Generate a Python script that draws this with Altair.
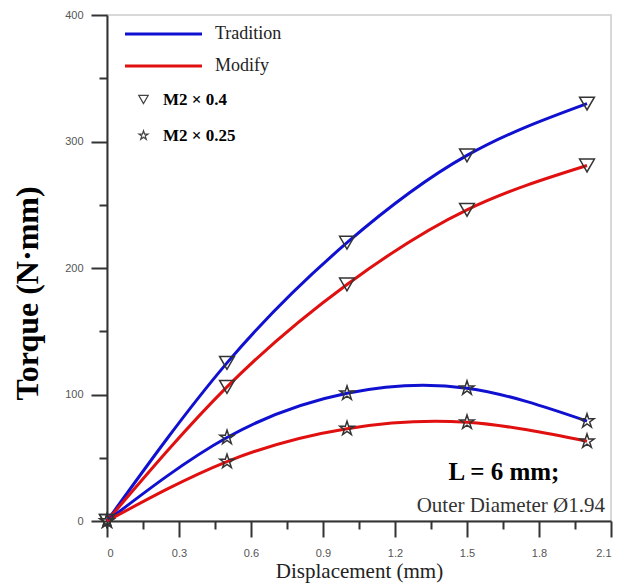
import altair as alt
import pandas as pd

# Displacement (mm) sampled for every curve
displacement = [0.0, 0.5, 1.0, 1.5, 2.0]

# Torque (N·mm) for each design / module combination
tradition_04 = [0, 125, 220, 289, 330]
modify_04 = [0, 106, 187, 246, 281]
tradition_025 = [0, 66, 101, 105, 79]
modify_025 = [0, 47, 73, 78, 63]

designs = ["Tradition", "Modify"]
modules = ["M2 \u00d7 0.4", "M2 \u00d7 0.25"]
design_colors = ["#1010d0", "#e01010"]

series = [
    ("Tradition", modules[0], tradition_04),
    ("Modify", modules[0], modify_04),
    ("Tradition", modules[1], tradition_025),
    ("Modify", modules[1], modify_025),
]
rows = []
for design, module, values in series:
    for x, y in zip(displacement, values):
        rows.append({"disp": x, "torque": y, "design": design, "module": module})
df = pd.DataFrame(rows)

x_major = [0, 0.3, 0.6, 0.9, 1.2, 1.5, 1.8, 2.1]
x_minor = [0.15, 0.45, 0.75, 1.05, 1.35, 1.65, 1.95]
y_major = [0, 100, 200, 300, 400]
y_minor = [50, 150, 250, 350]

STAR = ("M0,-1L0.2245,-0.309L0.951,-0.309L0.363,0.118L0.588,0.809L0,0.382"
        "L-0.588,0.809L-0.363,0.118L-0.951,-0.309L-0.2245,-0.309Z")

SERIF = "Liberation Serif"
SANS = "Liberation Sans"

xscale = alt.Scale(domain=[0, 2.1], nice=False, zero=False)
yscale = alt.Scale(domain=[0, 400], nice=False)

x_axis = alt.Axis(
    values=x_major, title="Displacement (mm)", orient="bottom",
    titleFont=SERIF, titleFontSize=21, titleFontWeight="normal", titleColor="#222",
    titleY=56, titleBaseline="alphabetic",
    labelFont=SANS, labelFontSize=11, labelColor="#555", labelPadding=10,
    tickSize=16, tickWidth=2, tickColor="#333", domainColor="#333", domainWidth=2,
    grid=False, labelExpr="datum.value == 0 ? '0' : format(datum.value, '.1f')",
)
y_axis = alt.Axis(
    values=y_major, title="Torque (N\u00b7mm)", orient="left",
    titleFont=SERIF, titleFontSize=32, titleFontWeight="bold", titleColor="#000",
    titleX=-80, titleY=278, titleAngle=-90, titleAlign="center", titleBaseline="middle",
    labelFont=SANS, labelFontSize=11, labelColor="#555", labelPadding=8,
    tickSize=16, tickWidth=2, tickColor="#333", domainColor="#333", domainWidth=2,
    grid=False,
)
x_minor_axis = alt.Axis(
    values=x_minor, title=None, orient="bottom", labels=False, domain=False,
    tickSize=8, tickWidth=2, tickColor="#333", grid=False,
)
y_minor_axis = alt.Axis(
    values=y_minor, title=None, orient="left", labels=False, domain=False,
    tickSize=8, tickWidth=2, tickColor="#333", grid=False,
)

base = alt.Chart(df)

lines = base.mark_line(interpolate="natural", strokeWidth=3).encode(
    x=alt.X("disp:Q", scale=xscale, axis=x_axis),
    y=alt.Y("torque:Q", scale=yscale, axis=y_axis),
    color=alt.Color("design:N", scale=alt.Scale(domain=designs, range=design_colors), legend=None),
    detail="module:N",
)

points = base.mark_point(filled=False, strokeWidth=1.5, size=220, opacity=1).encode(
    x=alt.X("disp:Q", scale=xscale, axis=None),
    y=alt.Y("torque:Q", scale=yscale, axis=None),
    shape=alt.Shape(
        "module:N",
        scale=alt.Scale(domain=modules, range=["triangle-down", STAR]),
        legend=alt.Legend(
            title=None, orient="none", legendX=28, legendY=76,
            symbolSize=90, symbolStrokeColor="#444", symbolStrokeWidth=1.2,
            labelFont=SERIF, labelFontSize=17, labelFontWeight="bold", labelColor="#000",
            labelOffset=11, rowPadding=18,
        ),
    ),
    color=alt.value("#333"),
)

minor = base.mark_point(opacity=0).encode(
    x=alt.X("disp:Q", scale=xscale, axis=x_minor_axis),
    y=alt.Y("torque:Q", scale=yscale, axis=y_minor_axis),
)

# Line-style key for the two designs, drawn in the upper-left corner
key_layers = []
for i, (name, col) in enumerate(zip(designs, design_colors)):
    row_y = 19 + 32 * i
    key_layers.append(
        alt.Chart(pd.DataFrame({"t": [name]})).mark_rule(strokeWidth=3, color=col).encode(
            x=alt.value(18), x2=alt.value(95), y=alt.value(row_y)
        )
    )
    key_layers.append(
        alt.Chart(pd.DataFrame({"t": [name]})).mark_text(
            font=SERIF, fontSize=18, color="#222", align="left", baseline="middle"
        ).encode(x=alt.value(108), y=alt.value(row_y), text="t:N")
    )

note_main = alt.Chart(pd.DataFrame({"t": ["L = 6 mm;"]})).mark_text(
    font=SERIF, fontSize=25, fontWeight="bold", color="#000", align="center", baseline="alphabetic"
).encode(x=alt.value(397), y=alt.value(465), text="t:N")

note_sub = alt.Chart(pd.DataFrame({"t": ["Outer Diameter \u00d81.94"]})).mark_text(
    font=SERIF, fontSize=21, color="#333", align="right", baseline="alphabetic"
).encode(x=alt.value(498), y=alt.value(497), text="t:N")

chart = alt.layer(lines, minor, points, *key_layers, note_main, note_sub).resolve_axis(
    x="independent", y="independent"
).properties(
    width=504, height=506,
    autosize=alt.AutoSizeParams(type="none"),
    padding={"left": 107, "top": 15, "right": 8, "bottom": 64},
    background="white",
).configure_view(stroke="#cccccc", strokeWidth=1.5)

chart.save("out.html", embed_options={"renderer": "svg", "actions": False})
